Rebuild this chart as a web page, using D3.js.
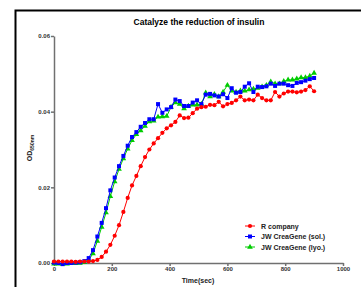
<!DOCTYPE html>
<html>
<head>
<meta charset="utf-8">
<script src="https://cdn.jsdelivr.net/npm/d3@7"></script>
<style>
  body { margin: 0; background: #fff; }
  svg { display: block; }
  text { font-family: "Liberation Sans", Arial, sans-serif; }
</style>
</head>
<body>
<div id="container"></div>
<script>
// sampling times (sec)
const times = [0, 15, 30, 45, 60, 75, 90, 105, 120, 135, 150, 165, 180, 195, 210, 225, 240, 255, 270, 285,
  300, 315, 330, 345, 360, 375, 390, 405, 420, 435, 450, 465, 480, 495, 510, 525, 540, 555, 570, 585,
  600, 615, 630, 645, 660, 675, 690, 705, 720, 735, 750, 765, 780, 795, 810, 825, 840, 855, 870, 885, 900];

const rCompany = [0.0004, 0.0004, 0.0004, 0.0004, 0.0004, 0.0003, 0.0004, 0.0004, 0.0004, 0.0005,
  0.0008, 0.0016, 0.0030, 0.0048, 0.0072, 0.0100, 0.0135, 0.0172, 0.0205, 0.0230,
  0.0256, 0.0280, 0.0300, 0.0316, 0.0330, 0.0344, 0.0356, 0.0364, 0.0373, 0.0390,
  0.0383, 0.0384, 0.0396, 0.0408, 0.0412, 0.0413, 0.0418, 0.0417, 0.0426, 0.0414,
  0.0420, 0.0423, 0.0430, 0.0440, 0.0430, 0.0432, 0.0430, 0.0445, 0.0436, 0.0430,
  0.0430, 0.0452, 0.0440, 0.0448, 0.0453, 0.0453, 0.0451, 0.0453, 0.0457, 0.0467, 0.0454];

const jwSol = [0.0001, 0.0000, -0.0003, 0.0000, 0.0000, 0.0001, 0.0002, 0.0005, 0.0013, 0.0034,
  0.0070, 0.0106, 0.0145, 0.0192, 0.0226, 0.0256, 0.0283, 0.0310, 0.0333, 0.0346,
  0.0360, 0.0370, 0.0380, 0.0380, 0.0420, 0.0397, 0.0406, 0.0412, 0.0432, 0.0428,
  0.0415, 0.0415, 0.0424, 0.0430, 0.0420, 0.0445, 0.0447, 0.0443, 0.0440, 0.0446,
  0.0436, 0.0462, 0.0450, 0.0452, 0.0466, 0.0475, 0.0452, 0.0466, 0.0465, 0.0467,
  0.0474, 0.0468, 0.0474, 0.0474, 0.0470, 0.0468, 0.0476, 0.0478, 0.0482, 0.0486, 0.0489];

const jwLyo = [-0.0002, -0.0002, -0.0002, -0.0002, -0.0001, -0.0001, 0.0000, 0.0002, 0.0008, 0.0025,
  0.0058, 0.0095, 0.0133, 0.0176, 0.0215, 0.0248, 0.0276, 0.0302, 0.0324, 0.0340,
  0.0350, 0.0362, 0.0374, 0.0376, 0.0386, 0.0387, 0.0388, 0.0412, 0.0424, 0.0420,
  0.0408, 0.0415, 0.0418, 0.0418, 0.0420, 0.0450, 0.0440, 0.0446, 0.0440, 0.0452,
  0.0470, 0.0455, 0.0452, 0.0455, 0.0455, 0.0458, 0.0460, 0.0462, 0.0466, 0.0470,
  0.0479, 0.0474, 0.0474, 0.0480, 0.0484, 0.0484, 0.0487, 0.0490, 0.0490, 0.0494, 0.0502];

const xTicks = [0, 200, 400, 600, 800, 1000];
const yTicks = [0, 0.02, 0.04, 0.06];
const seriesNames = ["R company", "JW CreaGene (sol.)", "JW CreaGene (lyo.)"];
const seriesColors = ["#ff0000", "#0000ff", "#00cc00"];

const width = 361, height = 287;
const plotLeft = 54, plotRight = 343, plotTop = 36, plotBottom = 263;

const svg = d3.select("#container").append("svg")
  .attr("width", width)
  .attr("height", height);

// frame
svg.append("path")
  .attr("d", "M15.5," + height + "V10.5H" + width)
  .attr("fill", "none")
  .attr("stroke", "#000")
  .attr("stroke-width", 2);

svg.append("text")
  .attr("x", 199)
  .attr("y", 25)
  .attr("text-anchor", "middle")
  .attr("font-size", 8.5)
  .attr("font-weight", "bold")
  .text("Catalyze the reduction of insulin");

const x = d3.scaleLinear().domain([0, 1000]).range([plotLeft, plotRight]);
const y = d3.scaleLinear().domain([0, 0.06]).range([plotBottom, plotTop]);

const xAxis = svg.append("g")
  .attr("transform", "translate(0," + plotBottom + ")")
  .call(d3.axisBottom(x).tickValues(xTicks).tickFormat(d3.format("d")).tickSize(3).tickPadding(1).tickSizeOuter(0));
const yAxis = svg.append("g")
  .attr("transform", "translate(" + plotLeft + ",0)")
  .call(d3.axisLeft(y).tickValues(yTicks).tickFormat(d3.format(".2f")).tickSize(3).tickPadding(1).tickSizeOuter(0));

[xAxis, yAxis].forEach(g => {
  g.selectAll("path, line").attr("stroke", "#707070").attr("stroke-width", 1.5);
  g.selectAll("text")
    .attr("font-size", 6)
    .attr("font-weight", "bold")
    .attr("fill", "#333")
    .style("font-family", "'Liberation Sans', Arial, sans-serif");
});

svg.append("text")
  .attr("x", 198)
  .attr("y", 283)
  .attr("text-anchor", "middle")
  .attr("font-size", 7)
  .attr("font-weight", "bold")
  .attr("fill", "#222")
  .text("Time(sec)");

const yl = svg.append("text")
  .attr("transform", "translate(32,148) rotate(-90)")
  .attr("text-anchor", "middle")
  .attr("font-size", 7)
  .attr("font-weight", "bold")
  .attr("fill", "#222");
yl.append("tspan").text("OD");
yl.append("tspan").attr("font-size", 5).attr("dy", 1.5).text("650nm");

const symbols = [d3.symbolCircle, d3.symbolSquare, d3.symbolTriangle];
const sizes = [14, 16, 14];
const allSeries = [rCompany, jwSol, jwLyo];

const line = d3.line()
  .x((d, i) => x(times[i]))
  .y(d => y(d));

// draw green, then blue, then red on top
[2, 1, 0].forEach(k => {
  const data = allSeries[k];
  svg.append("path")
    .datum(data)
    .attr("fill", "none")
    .attr("stroke", seriesColors[k])
    .attr("stroke-width", 1)
    .attr("d", line);
  svg.append("g").selectAll("path")
    .data(data)
    .join("path")
    .attr("transform", (d, i) => "translate(" + x(times[i]) + "," + y(d) + ")")
    .attr("d", d3.symbol().type(symbols[k]).size(sizes[k]))
    .attr("fill", seriesColors[k]);
});

// legend
const legend = svg.append("g");
seriesNames.forEach((name, k) => {
  const ly = 226 + k * 10.5;
  legend.append("line")
    .attr("x1", 245).attr("x2", 255)
    .attr("y1", ly).attr("y2", ly)
    .attr("stroke", seriesColors[k]).attr("stroke-width", 1);
  legend.append("path")
    .attr("transform", "translate(250," + ly + ")")
    .attr("d", d3.symbol().type(symbols[k]).size(sizes[k]))
    .attr("fill", seriesColors[k]);
  legend.append("text")
    .attr("x", 261)
    .attr("y", ly + 2.5)
    .attr("font-size", 7)
    .attr("font-weight", "bold")
    .attr("fill", "#222")
    .text(name);
});
</script>
</body>
</html>
